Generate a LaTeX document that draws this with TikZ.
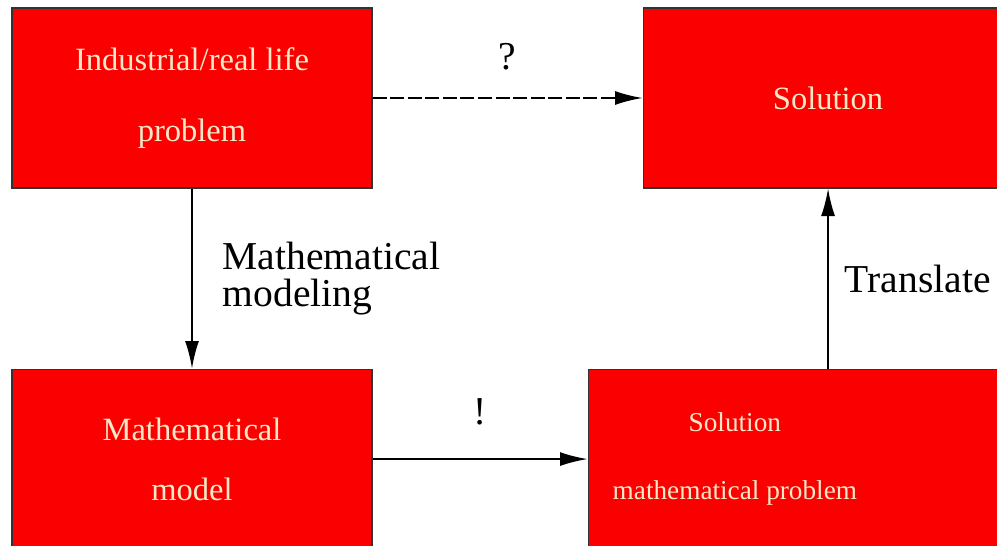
\documentclass[tikz,border=0pt]{standalone}
\usepackage{fontspec}
\setmainfont{Liberation Serif}
\usetikzlibrary{arrows.meta,positioning}

\definecolor{boxred}{RGB}{250,0,0}
\definecolor{boxtextcol}{RGB}{248,232,200}

\begin{document}
\begin{tikzpicture}[
    box/.style={draw=black!80, fill=boxred, line width=0.6pt, minimum width=7.2cm, minimum height=3.6cm,
        align=center, text=boxtextcol, font=\fontsize{18.5pt}{40pt}\selectfont},
    boxtext/.style={align=center, text=boxtextcol, font=\fontsize{15.5pt}{39pt}\selectfont},
    lbl/.style={font=\fontsize{22.5pt}{21pt}\selectfont, align=left},
    arrow/.style={-{Latex[length=5.5mm,width=2.8mm]}, line width=1.1pt}
]
    \useasboundingbox (0,0) rectangle (19.94,-10.92);
    \clip (0,0) rectangle (19.94,-10.92);

    % Boxes
    \node[box] (problem) at (3.84,-1.96) {Industrial/real life\\problem};
    \node[box, minimum width=7.4cm, right=5.4cm of problem] (solution) {Solution};
    \node[box, below=3.6cm of problem] (model) {Mathematical\\[-6pt]model};
    \node[box, minimum width=8.6cm, right=4.3cm of model] (mathsol) {};
    \node[boxtext, right=0.38cm of mathsol.west] (mathsoltext) {Solution\\mathematical problem};

    % Arrows
    \draw[arrow, dash pattern=on 8pt off 2pt] (problem) -- node[above=0.42cm, lbl] (qmark) {?} (solution);
    \draw[arrow] (problem) -- node[right=0.48cm, lbl] (modeling) {Mathematical\\modeling} (model);
    \draw[arrow] (model.east) -- node[above=0.55cm, lbl] (emark) {!} (model.east -| mathsol.west);
    \draw[arrow] (solution.south |- mathsol.north) -- node[right=0.2cm, lbl] (translate) {Translate} (solution.south);
\end{tikzpicture}
\end{document}
